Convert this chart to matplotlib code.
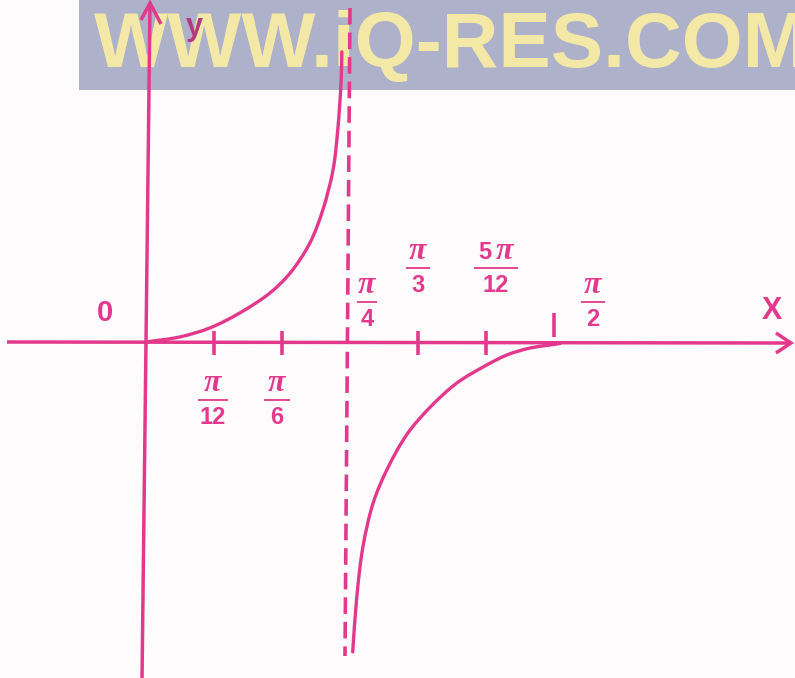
import numpy as np
import matplotlib
matplotlib.use("Agg")
import matplotlib.pyplot as plt
from matplotlib.path import Path
from matplotlib.patches import PathPatch, Rectangle

# ---- data (x in multiples of pi/12, y in plot units) ----
left_x = [0, 0.5, 0.94, 1.38, 1.82, 2.12, 2.41, 2.60, 2.75, 2.82, 2.87, 2.88]
left_y = [0, 0.17, 0.47, 0.97, 1.63, 2.3, 3.3, 4.4, 5.73, 7.07, 8.73, 9.67]
right_x = [3.04, 3.10, 3.19, 3.34, 3.54, 3.84, 4.18, 4.57, 4.96, 5.31, 5.65, 5.94, 6.09]
right_y = [-10.33, -8.5, -6.83, -5.37, -4.27, -3.07, -2.17, -1.37, -0.83, -0.43, -0.2, -0.1, -0.05]
asymptote_x = 3
tick_positions = [1, 2, 3, 4, 5, 6]
tick_numerators = ["π", "π", "π", "π", "5π", "π"]
tick_denominators = ["12", "6", "4", "3", "12", "2"]

PINK = "#E3398C"
W, H = 795, 678
X0, UX = 146, 68.0    # pixel of x=0, pixels per pi/12
Y0, UY = 342, 30.0    # pixel of y=0, pixels per unit


def P(px, py):
    """pixel position -> data coordinates"""
    return (px - X0) / UX, (Y0 - py) / UY


fig = plt.figure(figsize=(W / 100, H / 100), dpi=100)
fig.patch.set_facecolor("#FDFBFC")
ax = fig.add_axes([0, 0, 1, 1])
ax.set_xlim(P(0, 0)[0], P(W, 0)[0])
ax.set_ylim(P(0, H)[1], P(0, 0)[1])
ax.axis("off")
ax.set_facecolor("#FDFBFC")

# watermark banner
bx0, by0 = P(79, 90)
bx1, by1 = P(W + 5, -5)
ax.add_patch(Rectangle((bx0, by0), bx1 - bx0, by1 - by0, facecolor="#ADB1CA",
                       edgecolor="none", zorder=1))
tx, ty = P(94, 67)
ax.text(tx, ty, "WWW.iQ-RES.COM", fontsize=56.5, fontweight="bold",
        family="Liberation Sans", color="#F4E8A6", ha="left", va="baseline",
        zorder=2, clip_on=True)

LW = 2.5


def line_px(pts, **kw):
    d = np.array([P(*p) for p in pts])
    ax.plot(d[:, 0], d[:, 1], color=PINK, lw=kw.pop("lw", LW),
            solid_capstyle="butt", zorder=kw.pop("zorder", 4), **kw)


# x axis with arrow head
line_px([(7, 342), (790, 343)])
line_px([(776, 333), (791, 343), (776, 353)], solid_joinstyle="miter")
# y axis (slightly skewed as printed) with arrow head
line_px([(142, H + 2), (150, 4)])
line_px([(141, 20), (150, 3), (161, 24)], solid_joinstyle="miter")

# tick marks
for k in tick_positions:
    px = X0 + k * UX
    if k == 6:
        line_px([(px, 313), (px, 337)], lw=2.6)
    elif k != 3:
        line_px([(px, 331), (px, 355)], lw=2.6)

# dashed asymptote
ax_top = P(350, 8)
ax_bot = P(345, 656)
ax.plot([ax_top[0], ax_bot[0]], [ax_top[1], ax_bot[1]], color=PINK, lw=2.6,
        dashes=(4.6, 2.2), zorder=4)


def smooth_path(xs, ys, alpha=0.5):
    """Centripetal Catmull-Rom curve through the points, built in pixel
    space and returned as a Bezier path in data coordinates."""
    px = np.column_stack([X0 + np.asarray(xs) * UX,
                          Y0 - np.asarray(ys) * UY]).astype(float)
    n = len(px)
    ext = np.vstack([2 * px[0] - px[1], px, 2 * px[-1] - px[-2]])
    verts = [px[0]]
    codes = [Path.MOVETO]
    for i in range(1, n):
        p0, p1, p2, p3 = ext[i - 1], ext[i], ext[i + 1], ext[i + 2]
        d1 = max(np.linalg.norm(p1 - p0) ** alpha, 1e-6)
        d2 = max(np.linalg.norm(p2 - p1) ** alpha, 1e-6)
        d3 = max(np.linalg.norm(p3 - p2) ** alpha, 1e-6)
        c1 = (d1 ** 2 * p2 - d2 ** 2 * p0
              + (2 * d1 ** 2 + 3 * d1 * d2 + d2 ** 2) * p1) / (3 * d1 * (d1 + d2))
        c2 = (d3 ** 2 * p1 - d2 ** 2 * p3
              + (2 * d3 ** 2 + 3 * d3 * d2 + d2 ** 2) * p2) / (3 * d3 * (d3 + d2))
        verts += [c1, c2, p2]
        codes += [Path.CURVE4] * 3
    data = np.array([P(vx, vy) for vx, vy in verts])
    return Path(data, codes)


for xs, ys in [(left_x, left_y), (right_x, right_y)]:
    ax.add_patch(PathPatch(smooth_path(xs, ys), facecolor="none",
                           edgecolor=PINK, lw=2.4, zorder=5,
                           capstyle="round"))

# fraction labels
label_px = {1: (213, 400), 2: (277, 400), 3: (367, 302),
            4: (418, 268), 5: (496, 268), 6: (593, 302)}
bar_w = {1: 30, 2: 26, 3: 20, 4: 24, 5: 44, 6: 24}
PI_KW = dict(fontsize=23, style="italic", fontweight="bold",
             family="Liberation Serif", color=PINK, ha="center",
             va="center", zorder=6)
DIG_KW = dict(fontsize=17, fontweight="bold", family="Liberation Sans",
              color=PINK, ha="center", va="center", zorder=6)
for k, num, den in zip(tick_positions, tick_numerators, tick_denominators):
    cx, by = label_px[k]
    if num.startswith("5"):
        ax.text(*P(cx - 11, by - 16), "5", **DIG_KW)
        ax.text(*P(cx + 9, by - 17), "π", **PI_KW)
    else:
        ax.text(*P(cx, by - 17), "π", **PI_KW)
    half = bar_w[k] / 2
    line_px([(cx - half, by), (cx + half, by)], lw=1.3, zorder=6)
    ax.text(*P(cx, by + 17), den, **DIG_KW)

# axis names and origin
ax.text(*P(105, 313), "0", fontsize=21, fontweight="bold",
        family="Liberation Sans", color=PINK, ha="center", va="center",
        zorder=6)
ax.text(*P(772, 311), "X", fontsize=22, fontweight="bold",
        family="Liberation Sans", color=PINK, ha="center", va="center",
        zorder=6)
ax.text(*P(194, 27), "y", fontsize=22, fontweight="bold",
        family="Liberation Sans", color="#B2387F", ha="center", va="center",
        zorder=6)

fig.savefig("out.png", dpi=100, facecolor=fig.get_facecolor())
